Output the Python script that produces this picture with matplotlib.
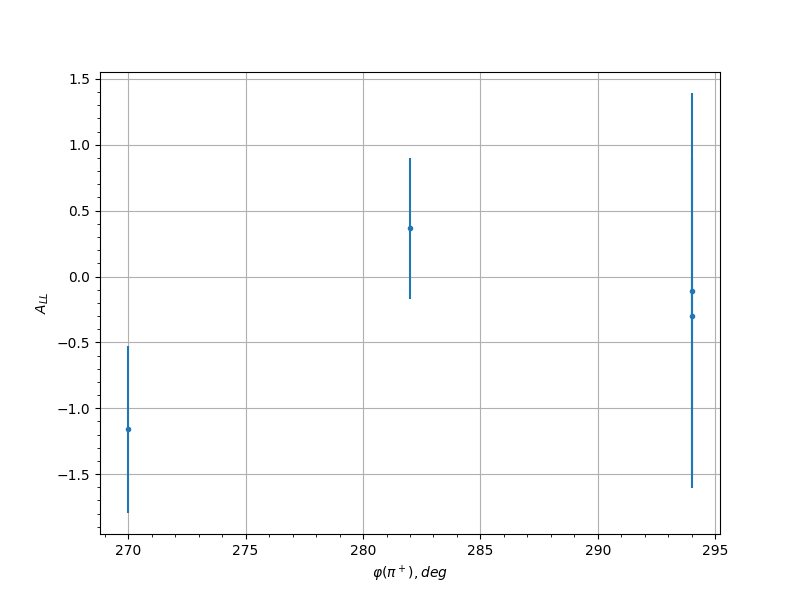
import matplotlib
matplotlib.use("Agg")
import matplotlib.pyplot as plt
from matplotlib.ticker import AutoMinorLocator

phi = [270, 282, 294, 294]
a_ll = [-1.16, 0.366, -0.107, -0.30]
a_err = [0.635, 0.533, 1.50, 1.20]

fig, ax = plt.subplots(figsize=(8, 6), dpi=100)
ax.errorbar(phi, a_ll, yerr=a_err, fmt='.', color='#1f77b4')
ax.set_xlabel(r'$\varphi(\pi^+), deg$')
ax.set_ylabel(r'$A_{LL}$')
ax.grid(True)
ax.xaxis.set_minor_locator(AutoMinorLocator())
ax.yaxis.set_minor_locator(AutoMinorLocator())
fig.savefig('out.png')
